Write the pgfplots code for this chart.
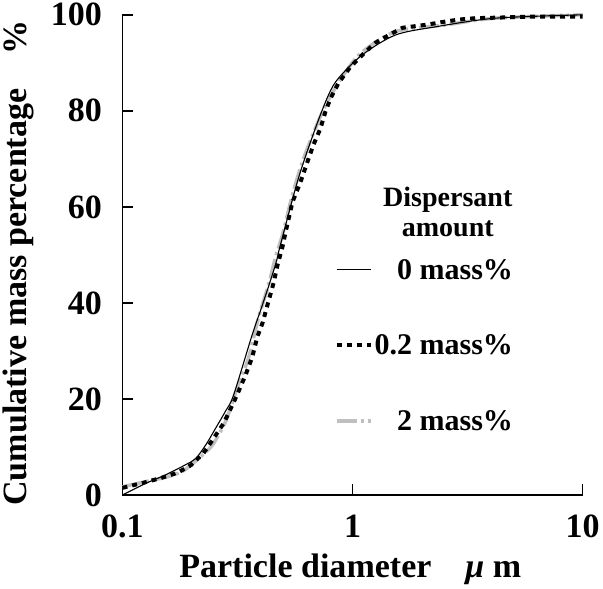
\documentclass[border=0pt]{standalone}
\usepackage{fontspec}
\setmainfont{Liberation Serif}
\usepackage{pgfplots}
\pgfplotsset{compat=1.18}
\newcommand{\bigfont}{\bfseries\fontsize{34}{38}\selectfont}
\begin{document}
\begin{tikzpicture}
\begin{axis}[
    scale only axis,
    width=460pt, height=480pt,
    xmode=log,
    xmin=0.1, xmax=10,
    ymin=0, ymax=100,
    axis x line=bottom, axis y line=left,
    axis line style={-, line width=1.5pt},
    xtick={0.1,1,10}, xticklabels={0.1,1,10},
    ytick={0,20,40,60,80,100}, yticklabels={0,20,40,60,80,100},
    xminorticks=false,
    tick align=inside,
    major tick length=11pt,
    major tick style={line width=1.5pt, black},
    xticklabel style={font=\bigfont, yshift=-16pt},
    yticklabel style={font=\bigfont, xshift=-17pt},
    xlabel={Particle diameter\quad\textit{μ} m},
    ylabel={Cumulative mass percentage\quad\%},
    xlabel style={font=\bigfont, at={(axis description cs:0.495,-0.155)}, anchor=center},
    ylabel style={font=\bigfont, at={(axis description cs:-0.225,0.483)}, anchor=center},
    clip=false,
    reverse legend,
    legend cell align=right,
    legend image code/.code={\draw[#1] (0pt,0pt) -- (34pt,0pt);},
    legend style={draw=none, fill=none, at={(rel axis cs:0.86,0.50)}, anchor=north east,
        font=\bfseries\fontsize{30}{32}\selectfont, row sep=50pt},
]

% 2 mass%
\addplot[gray!50, line width=3.5pt, dash pattern=on 20pt off 4pt on 3pt off 4pt, smooth]
coordinates {
(0.1,1.7)(0.135,3.1)(0.154,3.7)(0.182,4.9)(0.214,7.6)(0.246,10.4)(0.280,15.2)
(0.301,19.4)(0.319,23)(0.353,28.5)(0.390,36.9)(0.431,43.7)(0.462,49.4)(0.496,54.2)
(0.548,62.5)(0.606,69.4)(0.690,76.4)(0.779,82)(0.933,88.1)(1.105,92.3)(1.538,96.5)
(2.536,97.9)(4.19,99.3)(10,100)
};
\addlegendentry{2 mass\%}

% 0.2 mass%
\addplot[black, line width=4pt, dash pattern=on 5pt off 5pt]
coordinates {
(0.1,1.5)(0.122,2.5)(0.146,3.5)(0.173,4.6)(0.198,6.2)(0.225,8.7)(0.249,11.8)
(0.275,14.9)(0.301,18.8)(0.319,21.5)(0.343,25)(0.367,28.8)(0.386,33)(0.406,35.8)
(0.427,39.6)(0.454,44.2)(0.472,47.9)(0.496,51.7)(0.512,54.8)(0.548,61)(0.594,65.2)
(0.637,69.4)(0.676,72.9)(0.726,76.4)(0.763,79.9)(0.802,82.6)(0.869,85.8)(0.980,89.2)
(1.105,91.7)(1.259,94.2)(1.493,96.2)(1.649,97.3)(2.075,97.9)(2.462,98.5)(2.89,99)
(3.43,99.3)(4.19,99.4)(5.82,99.6)(10,99.6)
};
\addlegendentry{0.2 mass\%}

% 0 mass%
\addplot[black, line width=1.1pt, smooth]
coordinates {
(0.1,0)(0.126,2.4)(0.154,4.2)(0.188,6.3)(0.208,7.6)(0.230,10.4)(0.254,13.9)
(0.280,17.4)(0.304,20.8)(0.366,33.3)(0.406,39.6)(0.462,47.9)(0.486,52.1)(0.582,66)
(0.690,76.4)(0.786,83.3)(0.869,86.8)(1.105,91.7)(1.538,95.8)(2.296,97.5)(4.19,99.3)
(10,100)
};
\addlegendentry{0 mass\%}

\node[font=\bfseries\fontsize{28}{30}\selectfont, align=center]
    at (rel axis cs:0.707,0.59) {Dispersant\\amount};
\end{axis}
\end{tikzpicture}
\end{document}
